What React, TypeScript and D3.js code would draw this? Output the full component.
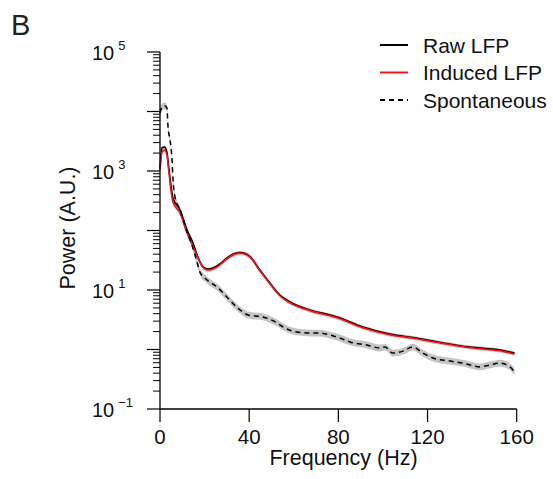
import React from "react";
import * as d3 from "d3";

const freqRaw = [0, 0.9, 2, 3.1, 3.8, 4.9, 5.8, 9, 12.1, 14.8, 17, 19.3, 21.5, 23.8, 26.9, 30, 33.6, 35.8, 38.5, 40.4, 44.8, 49.3, 53.8, 58.3, 67.3, 76.2, 79.4, 91, 103, 115, 127, 139, 152.5, 159];
const rawLFP = [1120, 2440, 2530, 2080, 1260, 582, 352, 221, 102, 61.7, 35.9, 24.4, 22.5, 23.4, 27.4, 34.5, 41.0, 42.6, 40.6, 36.5, 21.7, 13.1, 8.24, 6.29, 4.61, 3.8, 3.52, 2.39, 1.82, 1.56, 1.29, 1.1, 0.98, 0.87];
const inducedLFP = [1040, 2080, 2250, 1860, 1120, 480, 301, 197, 91, 55, 34.5, 24.0, 21.7, 22.5, 26.5, 33.5, 40.0, 41.6, 39.6, 35.6, 21.0, 12.7, 8.0, 6.1, 4.5, 3.7, 3.42, 2.32, 1.77, 1.52, 1.26, 1.07, 0.95, 0.84];

const freqSpont = [0, 0.9, 2.2, 3.1, 3.6, 4.5, 5.4, 5.8, 6.7, 9, 12.1, 14.8, 16.6, 17.9, 21.1, 25.6, 30, 35.9, 39.5, 46.2, 52.5, 55.2, 61.4, 67.3, 71.7, 76.2, 80.7, 85.2, 92.8, 98.6, 100.9, 104.5, 109, 113.4, 117.9, 122.4, 130, 135.9, 143.5, 148, 152.5, 157, 159];
const spontaneous = [9440, 11900, 12400, 11500, 5490, 3320, 1530, 762, 366, 221, 97, 50.8, 29.6, 20.1, 14.7, 11.2, 7.62, 4.61, 3.8, 3.52, 2.79, 2.39, 1.97, 1.89, 1.89, 1.75, 1.56, 1.34, 1.19, 1.06, 1.1, 0.87, 0.94, 1.1, 0.87, 0.72, 0.64, 0.59, 0.51, 0.55, 0.59, 0.51, 0.42];

const xTicks = [0, 40, 80, 120, 160];
const yDecades = [-1, 0, 1, 2, 3, 4, 5];
const yLabeled = [-1, 1, 3, 5];
const legendItems = ["Raw LFP", "Induced LFP", "Spontaneous"];

const FONT = "'Liberation Sans', Arial, Helvetica, sans-serif";

export default function App() {
  const x = d3.scaleLinear().domain([0, 160]).range([160, 516.7]);
  const y = d3.scaleLog().domain([0.1, 1e5]).range([409, 52]);

  const line = d3
    .line<[number, number]>()
    .x((d) => x(d[0]))
    .y((d) => y(d[1]))
    .curve(d3.curveMonotoneX);

  const area = (fr: number[], vals: number[], k: number) =>
    d3
      .area<number>()
      .x((_, i) => x(fr[i]))
      .y0((v) => y(v / k))
      .y1((v) => y(v * k))
      .curve(d3.curveMonotoneX)(vals) || "";

  const pts = (fr: number[], vals: number[]) => vals.map((v, i) => [fr[i], v] as [number, number]);

  const minorTicks: number[] = [];
  for (let e = -1; e < 5; e++) {
    for (let m = 2; m <= 9; m++) minorTicks.push(m * Math.pow(10, e));
  }

  const legendColors = ["#000", "#e8171b", "#000"];
  const legendDash = [undefined, undefined, "5,4"];

  return (
    <svg width={553} height={479} style={{ position: "absolute", left: 0, top: 0 }} fontFamily={FONT}>
      <rect width={553} height={479} fill="#fff" />
      <text x={11} y={35} fontSize={29} fill="#222">B</text>

      {/* bands */}
      <path d={area(freqSpont, spontaneous, 1.14)} fill="#c4c4c4" />
      <path d={area(freqRaw, rawLFP, 1.06)} fill="#c8c8c8" />
      <path d={area(freqRaw, inducedLFP, 1.07)} fill="#f2a0a0" opacity={0.8} />

      {/* lines */}
      <path d={line(pts(freqRaw, rawLFP)) || ""} fill="none" stroke="#000" strokeWidth={1.6} />
      <path d={line(pts(freqRaw, inducedLFP)) || ""} fill="none" stroke="#e8171b" strokeWidth={1.6} />
      <path d={line(pts(freqSpont, spontaneous)) || ""} fill="none" stroke="#000" strokeWidth={1.5} strokeDasharray="5,4" />

      {/* y axis */}
      <line x1={160} x2={160} y1={y(1e5)} y2={y(0.1)} stroke="#000" strokeWidth={1.3} />
      {yDecades.map((e) => (
        <line key={"M" + e} x1={147} x2={160} y1={y(Math.pow(10, e))} y2={y(Math.pow(10, e))} stroke="#000" strokeWidth={1.2} />
      ))}
      {minorTicks.map((v, i) => (
        <line key={"m" + i} x1={153} x2={160} y1={y(v)} y2={y(v)} stroke="#000" strokeWidth={1} />
      ))}
      {yLabeled.map((e) => (
        <text key={"l" + e} x={92} y={y(Math.pow(10, e)) + 7.5} fontSize={20} fill="#111">
          10
          <tspan dx={4} dy={-10} fontSize={13}>{e < 0 ? "\u2212" + Math.abs(e) : String(e)}</tspan>
        </text>
      ))}
      <text transform={`translate(75,228) rotate(-90)`} textAnchor="middle" fontSize={21.5} fill="#111">
        Power (A.U.)
      </text>

      {/* x axis */}
      <line x1={x(0)} x2={x(160)} y1={409} y2={409} stroke="#000" strokeWidth={1.3} />
      {xTicks.map((t) => (
        <g key={"x" + t}>
          <line x1={x(t)} x2={x(t)} y1={409} y2={422} stroke="#000" strokeWidth={1.2} />
          <text x={x(t)} y={443.5} textAnchor="middle" fontSize={20.5} fill="#111">{t}</text>
        </g>
      ))}
      <text x={343.5} y={465} textAnchor="middle" fontSize={21.5} fill="#111">Frequency (Hz)</text>

      {/* legend */}
      {legendItems.map((name, i) => (
        <g key={name}>
          <line x1={380} x2={408} y1={45 + i * 27.5} y2={45 + i * 27.5} stroke={legendColors[i]} strokeWidth={2} strokeDasharray={legendDash[i]} />
          <text x={423} y={52.5 + i * 27.5} fontSize={21} fill="#111">{name}</text>
        </g>
      ))}
    </svg>
  );
}
